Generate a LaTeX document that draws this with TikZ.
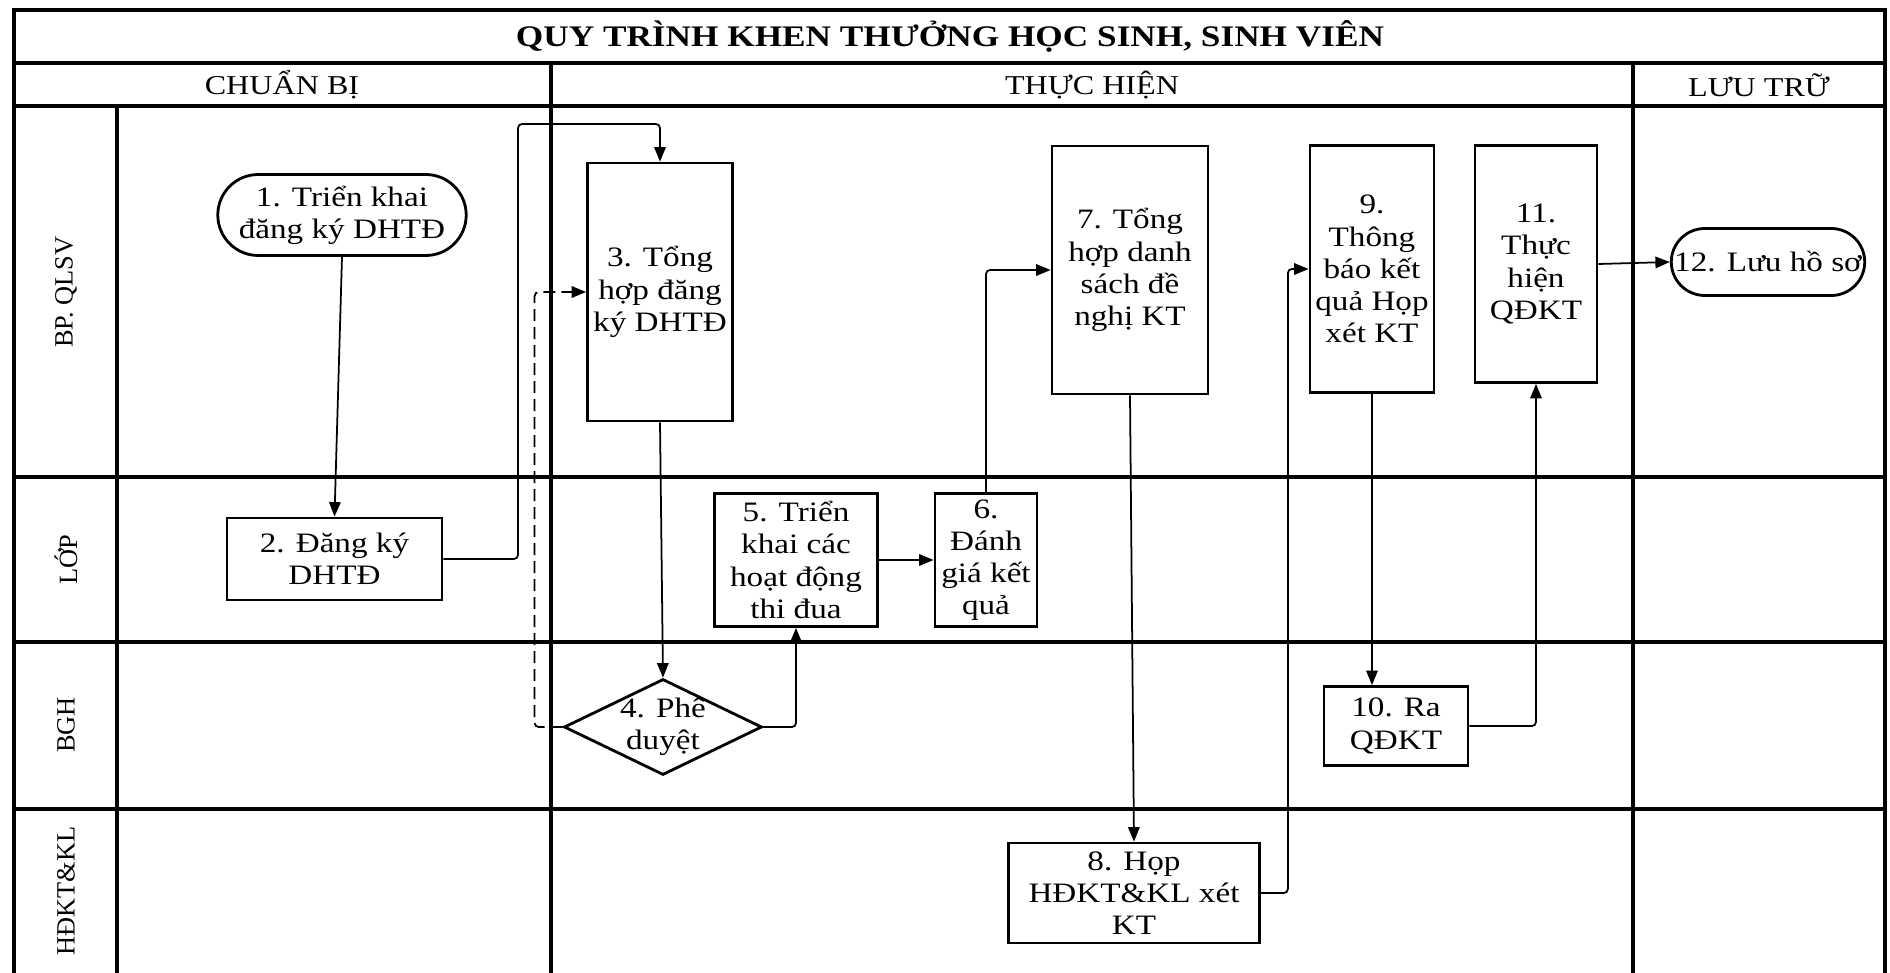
\documentclass[tikz,border=0pt]{standalone}
\usepackage{fontspec}
\setmainfont{Liberation Serif}[FakeStretch=1.18]
\newfontfamily\lanefont{Liberation Serif}
\usepackage{tikz}
\usetikzlibrary{shapes.geometric,shapes.misc,arrows.meta,positioning}
\tikzset{
  basebox/.style={draw=black,line width=1.6pt,align=center,inner sep=1pt,
                  font=\fontsize{16}{18.3}\selectfont},
  procnode/.style={basebox,rectangle},
  termnode/.style={basebox,rounded rectangle},
  decnode/.style={basebox,diamond,inner sep=0pt},
  steptext/.style={align=center,inner sep=0pt,font=\fontsize{16}{18.3}\selectfont},
  lanelabel/.style={rotate=90,font=\lanefont\fontsize{15}{17}\selectfont},
  headtext/.style={font=\fontsize{15.5}{18}\selectfont},
  titletext/.style={font=\bfseries\fontsize{17}{20}\selectfont},
  laneline/.style={line width=2.1pt},
  arr/.style={-{Triangle[length=0.29cm,width=0.23cm]},line width=1pt,
              rounded corners=0.08cm},
  dasharr/.style={arr,dash pattern=on 0.24cm off 0.12cm}
}

\begin{document}
\begin{tikzpicture}[x=0.02cm,y=-0.02cm]
  \useasboundingbox (0,0) rectangle (1890,973);

  % khung bang
  \draw[laneline] (14,973) -- (14,10) -- (1885,10) -- (1885,973);
  \draw[laneline] (14,63) -- (1885,63);
  \draw[laneline] (14,106) -- (1885,106);
  \draw[laneline] (117,106) -- (117,973);
  \draw[laneline] (551,63) -- (551,973);
  \draw[laneline] (1633,63) -- (1633,973);
  \foreach \y in {477,642,809}
    \draw[laneline] (14,\y) -- (1885,\y);

  % tieu de va cot
  \node[titletext] (title) at (950,36) {QUY TRÌNH KHEN THƯỞNG HỌC SINH, SINH VIÊN};
  \node[headtext] (hprep) at (282,85) {CHUẨN BỊ};
  \node[headtext] (hexec) at (1092,85) {THỰC HIỆN};
  \node[headtext] (hstore) at (1759,85) {LƯU TRỮ};

  % lan
  \node[lanelabel] (lqlsv) at (66,292) {BP. QLSV};
  \node[lanelabel] (llop) at (66,560) {LỚP};
  \node[lanelabel] (lbgh) at (66,725) {BGH};
  \node[lanelabel] (lhd) at (66,891) {HĐKT\&KL};

  % cac buoc
  \node[termnode,minimum width=5.04cm,minimum height=1.62cm,
        label={[steptext]center:{1. Triển khai\\đăng ký DHTĐ}}] (s1) at (342,215) {};
  \node[procnode,minimum width=4.3cm,minimum height=1.64cm] (s2) at (334.5,559)
      {2. Đăng ký\\DHTĐ};
  \node[procnode,minimum width=2.9cm,minimum height=5.16cm] (s3) at (660,292)
      {3. Tổng\\hợp đăng\\ký DHTĐ};
  \node[decnode,minimum width=3.96cm,minimum height=1.92cm,
        label={[steptext]center:{4. Phê\\duyệt}}] (s4) at (663,727) {};
  \node[procnode,minimum width=3.26cm,minimum height=2.66cm] (s5) at (796,560)
      {5. Triển\\khai các\\hoạt động\\thi đua};
  \node[procnode,minimum width=2.04cm,minimum height=2.66cm] (s6) at (986,560)
      {6.\\Đánh\\giá kết\\quả};
  \node[procnode,minimum width=3.12cm,minimum height=4.96cm] (s7) at (1130,270)
      {7. Tổng\\hợp danh\\sách đề\\nghị KT};
  \node[procnode,minimum width=5.02cm,minimum height=2cm] (s8) at (1134,893)
      {8. Họp\\HĐKT\&KL xét\\KT};
  \node[procnode,minimum width=2.48cm,minimum height=4.94cm] (s9) at (1372,269)
      {9.\\Thông\\báo kết\\quả Họp\\xét KT};
  \node[procnode,minimum width=2.88cm,minimum height=1.58cm] (s10) at (1396,726)
      {10. Ra\\QĐKT};
  \node[procnode,minimum width=2.44cm,minimum height=4.74cm] (s11) at (1536,264)
      {11.\\Thực\\hiện\\QĐKT};
  \node[termnode,minimum width=3.94cm,minimum height=1.34cm,
        label={[steptext]center:{12. Lưu hồ sơ}}] (s12) at (1768,262) {};

  % luong
  \draw[arr] (s1.south) -- (s2.north);
  \draw[arr] (s2.east) -| (518,124) -| (s3.north);
  \draw[arr] (s3.south) -- (s4.north);
  \draw[dasharr] (s4.west) -- ++(-28,0) |- (s3.west);
  \draw[arr] (s4.east) -| (s5.south);
  \draw[arr] (s5.east) -- (s6.west);
  \draw[arr] (s6.north) |- (s7.west);
  \draw[arr] (s7.south) -- (s8.north);
  \draw[arr] (s8.east) -- ++(27,0) |- (s9.west);
  \draw[arr] (s9.south) -- (s9.south |- s10.north);
  \draw[arr] (s10.east) -| (s11.south);
  \draw[arr] (s11.east) -- (s12.west);

\end{tikzpicture}
\end{document}
